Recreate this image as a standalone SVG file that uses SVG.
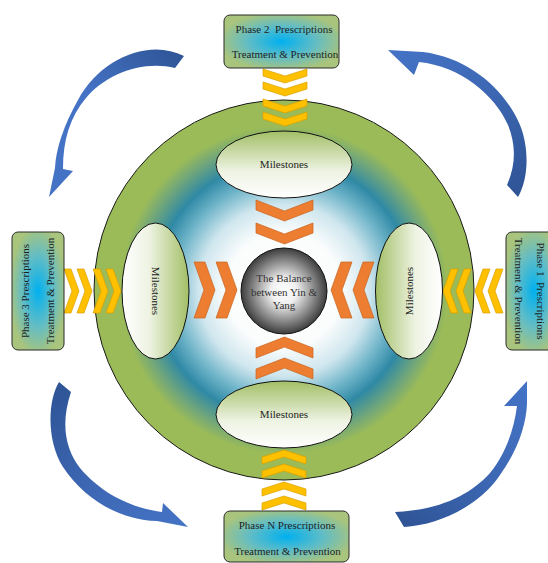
<svg xmlns="http://www.w3.org/2000/svg" width="548" height="563" viewBox="0 0 548 563">
<style>
.t{font-family:"Liberation Serif","Times New Roman",serif;font-size:11px;fill:#1e1e1e;text-anchor:middle;dominant-baseline:central}
.box{fill:url(#gBox);stroke:#2b2b2b;stroke-width:1}
.ell{stroke:#111;stroke-width:1}
.y{fill:#FFC000;stroke:#D9A000;stroke-width:0.7}
.o{fill:#ED7D31;stroke:#C96420;stroke-width:0.7}
</style>
<defs>
<radialGradient id="gCircle" gradientUnits="userSpaceOnUse" cx="284" cy="290" r="190">
<stop offset="0" stop-color="#ffffff"/>
<stop offset="0.3" stop-color="#fbfdfd"/>
<stop offset="0.45" stop-color="#cfe6ee"/>
<stop offset="0.58" stop-color="#6db3c8"/>
<stop offset="0.68" stop-color="#2f89a5"/>
<stop offset="0.78" stop-color="#6ea57c"/>
<stop offset="0.86" stop-color="#9bbb59"/>
<stop offset="1" stop-color="#9bbb59"/>
</radialGradient>
<radialGradient id="gBall" cx="0.5" cy="0.5" r="0.5">
<stop offset="0" stop-color="#ffffff"/>
<stop offset="0.3" stop-color="#f0f0f0"/>
<stop offset="0.7" stop-color="#8a8a8a"/>
<stop offset="1" stop-color="#3c3c3c"/>
</radialGradient>
<radialGradient id="gBox" cx="0.5" cy="0.5" r="0.55">
<stop offset="0" stop-color="#00b0f0"/>
<stop offset="0.55" stop-color="#63bdc4"/>
<stop offset="1" stop-color="#a9c47c"/>
</radialGradient>
<linearGradient id="gEllV" x1="0" y1="0" x2="0" y2="1">
<stop offset="0" stop-color="#a2bf66"/>
<stop offset="0.6" stop-color="#eef3e3"/>
<stop offset="1" stop-color="#ffffff"/>
</linearGradient>
<linearGradient id="gEllL" x1="0" y1="0" x2="1" y2="0">
<stop offset="0" stop-color="#ffffff"/>
<stop offset="0.4" stop-color="#eef3e3"/>
<stop offset="1" stop-color="#a2bf66"/>
</linearGradient>
<linearGradient id="gEllR" x1="0" y1="0" x2="1" y2="0">
<stop offset="0" stop-color="#a2bf66"/>
<stop offset="0.6" stop-color="#eef3e3"/>
<stop offset="1" stop-color="#ffffff"/>
</linearGradient>
<linearGradient id="gA1" gradientUnits="userSpaceOnUse" x1="184" y1="56" x2="55" y2="190">
<stop offset="0" stop-color="#2f5597"/><stop offset="0.5" stop-color="#4472c4"/><stop offset="1" stop-color="#4472c4"/>
</linearGradient>
<linearGradient id="gA2" gradientUnits="userSpaceOnUse" x1="515" y1="195" x2="395" y2="55">
<stop offset="0" stop-color="#2f5597"/><stop offset="0.5" stop-color="#3d67b3"/><stop offset="1" stop-color="#4472c4"/>
</linearGradient>
<linearGradient id="gA3" gradientUnits="userSpaceOnUse" x1="62" y1="385" x2="185" y2="520">
<stop offset="0" stop-color="#2f5597"/><stop offset="0.5" stop-color="#3d67b3"/><stop offset="1" stop-color="#4472c4"/>
</linearGradient>
<linearGradient id="gA4" gradientUnits="userSpaceOnUse" x1="400" y1="520" x2="522" y2="388">
<stop offset="0" stop-color="#2f5597"/><stop offset="0.5" stop-color="#3d67b3"/><stop offset="1" stop-color="#4472c4"/>
</linearGradient>
</defs>

<g id="connectors">
<path fill="url(#gA1)" d="M184,56 C150,38 100,58 78,100 C64,125 56,148 55,168 L49,197 L73,171 L63,169 C63,140 70,117 86,98 C106,74 143,60 175,68 Z"/>
<path fill="url(#gA2)" d="M518,197 C528,180 530,150 520,125 C505,90 470,58 423,52 L388,50 L414,75 L419,62 C460,66 495,95 508,125 C516,145 516,165 507,185 Z"/>
<path fill="url(#gA3)" d="M59,382 C48,400 46,440 63,467 C85,500 120,520 157,521 L188,527 L163,503 L162,512 C130,508 100,492 80,468 C66,450 60,425 71,392 Z"/>
<path fill="url(#gA4)" d="M404,527 C440,525 480,505 500,475 C518,450 526,425 527,404 L527,381 L504,406 L517,406 C514,430 505,455 490,473 C470,495 440,510 395,512 Z"/>
</g>

<g id="ring">
<circle cx="284" cy="290" r="190" fill="url(#gCircle)" stroke="#1a1a1a" stroke-width="1"/>
</g>

<g id="chevrons">
<polygon class="y" points="263,69 285,76 307,69 307,76 285,83 263,76"/>
<polygon class="y" points="263,82 285,89 307,82 307,89 285,96 263,89"/>
<polygon class="y" points="263,99 285,106 307,99 307,106 285,113 263,106"/>
<polygon class="y" points="263,112 285,119 307,112 307,119 285,126 263,119"/>
<polygon class="y" points="284,450 306,457 306,464 284,457 262,464 262,457"/>
<polygon class="y" points="284,464 306,471 306,478 284,471 262,478 262,471"/>
<polygon class="y" points="284,482 306,489 306,496 284,489 262,496 262,489"/>
<polygon class="y" points="284,496 306,503 306,510 284,503 262,510 262,503"/>
<polygon class="y" points="64,269 71,269 79,291 71,313 64,313 72,291"/>
<polygon class="y" points="77,269 84,269 92,291 84,313 77,313 85,291"/>
<polygon class="y" points="93,269 100,269 108,291 100,313 93,313 101,291"/>
<polygon class="y" points="106,269 113,269 121,291 113,313 106,313 114,291"/>
<polygon class="y" points="443,291 451,269 458,269 450,291 458,313 451,313"/>
<polygon class="y" points="456,291 464,269 471,269 463,291 471,313 464,313"/>
<polygon class="y" points="475,291 483,269 490,269 482,291 490,313 483,313"/>
<polygon class="y" points="488,291 496,269 503,269 495,291 503,313 496,313"/>
<polygon class="o" points="256,200 284.5,211 313,200 313,210 284.5,221 256,210"/>
<polygon class="o" points="256,223 284.5,234 313,223 313,233 284.5,244 256,233"/>
<polygon class="o" points="284.5,337 313,348 313,358 284.5,347 256,358 256,348"/>
<polygon class="o" points="284.5,358 313,369 313,379 284.5,368 256,379 256,369"/>
<polygon class="o" points="194,262 205,262 215,290 205,318 194,318 204,290"/>
<polygon class="o" points="216,262 227,262 237,290 227,318 216,318 226,290"/>
<polygon class="o" points="331,290 341,262 352,262 342,290 352,318 341,318"/>
<polygon class="o" points="353,290 363,262 374,262 364,290 374,318 363,318"/>
</g>

<g id="milestones-top">
<ellipse class="ell" cx="284" cy="164.5" rx="68" ry="33.5" fill="url(#gEllV)"/>
<text class="t" x="284" y="164">Milestones</text>
</g>
<g id="milestones-bottom">
<ellipse class="ell" cx="284" cy="414.5" rx="68" ry="33.5" fill="url(#gEllV)"/>
<text class="t" x="284" y="414">Milestones</text>
</g>
<g id="milestones-left">
<ellipse class="ell" cx="155.5" cy="291" rx="33.5" ry="68" fill="url(#gEllL)"/>
<text class="t" transform="translate(155.5,291) rotate(90)" x="0" y="0">Milestones</text>
</g>
<g id="milestones-right">
<ellipse class="ell" cx="409" cy="291" rx="33.5" ry="68" fill="url(#gEllR)"/>
<text class="t" transform="translate(409,291) rotate(-90)" x="0" y="0">Milestones</text>
</g>

<g id="balance">
<circle cx="284" cy="291" r="43" fill="url(#gBall)" stroke="#111" stroke-width="1"/>
<text class="t" x="284" y="278" style="fill:#333">The Balance</text>
<text class="t" x="284" y="291.5" style="fill:#333">between Yin &amp;</text>
<text class="t" x="284" y="305" style="fill:#333">Yang</text>
</g>

<g id="phase2">
<rect class="box" x="224" y="15" width="115" height="53" rx="6"/>
<text class="t" x="284" y="29" xml:space="preserve">Phase 2  Prescriptions</text>
<text class="t" x="285" y="54">Treatment &amp; Prevention</text>
</g>
<g id="phaseN">
<rect class="box" x="224" y="511" width="125" height="51" rx="6"/>
<text class="t" x="287" y="525">Phase N Prescriptions</text>
<text class="t" x="287.5" y="551">Treatment &amp; Prevention</text>
</g>
<g id="phase3">
<rect class="box" x="12" y="232" width="52" height="118" rx="6"/>
<text class="t" transform="translate(24.5,291) rotate(-90)" x="0" y="0">Phase 3 Prescriptions</text>
<text class="t" transform="translate(50,291) rotate(-90)" x="0" y="0">Treatment &amp; Prevention</text>
</g>
<g id="phase1">
<rect class="box" x="506" y="232" width="56" height="118" rx="6"/>
<text class="t" transform="translate(541,291) rotate(90)" x="0" y="0" xml:space="preserve">Phase 1  Prescriptions</text>
<text class="t" transform="translate(519,291) rotate(90)" x="0" y="0">Treatment &amp; Prevention</text>
</g>
</svg>
